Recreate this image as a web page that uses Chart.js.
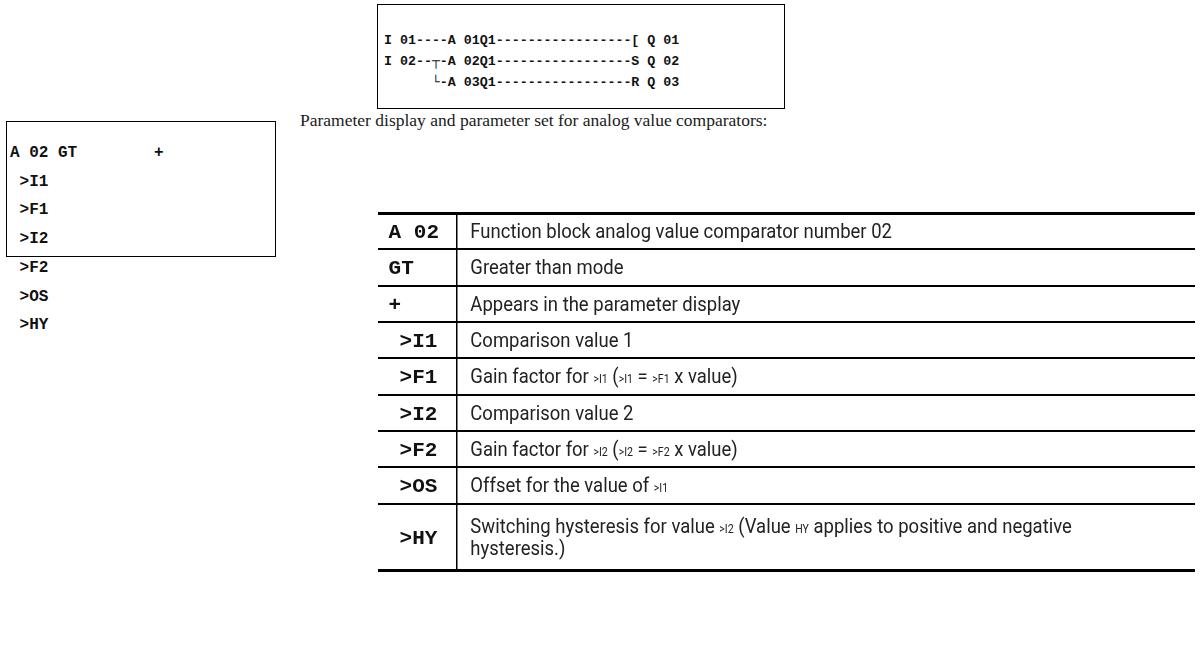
<!DOCTYPE html>
<html>
<head>
<meta charset="utf-8">
<script src="https://cdn.jsdelivr.net/npm/chart.js@4.4.1/dist/chart.umd.min.js"></script>
<style>
  body { margin: 0; background: #fff; }
  #page { position: relative; width: 1200px; height: 656px; overflow: hidden; background: #fff; }
  .box { position: absolute; border: 1.5px solid #000; box-sizing: border-box; }
  pre { margin: 0; position: absolute; font-family: "Liberation Mono", "Courier New", monospace; font-weight: bold; color: #111; }
  #intro { position: absolute; left: 300px; top: 110px; font: 17.5px "Liberation Serif", serif; color: #1a1a1a; white-space: nowrap; }
  #tableCanvas { position: absolute; left: 370px; top: 205px; }
</style>
</head>
<body>
<div id="page">
  <div class="box" style="left:377px; top:4px; width:408px; height:105px;"></div>
  <pre id="code" style="left:384px; top:30px; font-size:13.3px; line-height:21px;"></pre>
  <div class="box" style="left:6px; top:121px; width:270px; height:136px;"></div>
  <pre id="display" style="left:10px; top:139px; font-size:16px; line-height:28.7px;"></pre>
  <div id="intro"></div>
  <canvas id="tableCanvas" width="830" height="375"></canvas>
</div>
<script>
'use strict';

// circuit diagram lines in the top box
var codeLines = [
  'I 01----A 01Q1-----------------[ Q 01',
  'I 02--\u252C-A 02Q1-----------------S Q 02',
  '      \u2514-A 03Q1-----------------R Q 03'
];

// parameter display in the left box
var displayLines = [
  'A 02 GT        +',
  ' >I1',
  ' >F1',
  ' >I2',
  ' >F2',
  ' >OS',
  ' >HY'
];

var introText = 'Parameter display and parameter set for analog value comparators:';

// table: first column and description (text in {} is printed small, \n = new line)
var paramNames = ['A 02', 'GT', '+', ' >I1', ' >F1', ' >I2', ' >F2', ' >OS', ' >HY'];
var paramDescriptions = [
  'Function block analog value comparator number 02',
  'Greater than mode',
  'Appears in the parameter display',
  'Comparison value 1',
  'Gain factor for {>I1} ({>I1} = {>F1} x value)',
  'Comparison value 2',
  'Gain factor for {>I2} ({>I2} = {>F2} x value)',
  'Offset for the value of {>I1}',
  'Switching hysteresis for value {>I2} (Value {HY} applies to positive and negative\nhysteresis.)'
];

document.getElementById('code').textContent = codeLines.join('\n');
document.getElementById('display').textContent = displayLines.join('\n');
document.getElementById('intro').textContent = introText;

// row sizes in "row units", a second text line adds a bit less than a row
var rowUnits = function(lineCount) {
  return 1 + (lineCount - 1) * 0.83;
};

var rowBounds = [0];
paramDescriptions.forEach(function(d) {
  rowBounds.push(rowBounds[rowBounds.length - 1] + rowUnits(d.split('\n').length));
});
var tableTotal = rowBounds[rowBounds.length - 1];

var colSplit = 0.097;
var nameX = 0.013;
var descX = 0.113;

// pick a condensed face if one is there, otherwise squeeze Roboto
var probe = document.createElement('canvas').getContext('2d');
probe.font = '20px "Liberation Sans Narrow", monospace';
var wNarrow = probe.measureText('Function block analog').width;
probe.font = '20px monospace';
var wMono = probe.measureText('Function block analog').width;
var hasNarrow = Math.abs(wNarrow - wMono) > 0.5;
var descFamily = hasNarrow ? '"Liberation Sans Narrow"' : 'Roboto, "Liberation Sans", sans-serif';
var squeeze = hasNarrow ? 1.04 : 0.88;

function drawRich(ctx, text, x, baseY) {
  var parts = text.split(/(\{[^}]*\})/);
  ctx.save();
  ctx.translate(x, baseY);
  ctx.scale(squeeze, 1);
  var cx = 0;
  parts.forEach(function(p) {
    if (!p) { return; }
    var small = p.charAt(0) === '{';
    var s = small ? p.slice(1, -1) : p;
    ctx.font = (small ? '12px ' : '21px ') + descFamily;
    ctx.fillText(s, cx, 0);
    cx += ctx.measureText(s).width;
  });
  ctx.restore();
}

var tablePlugin = {
  id: 'paramTable',
  afterDraw: function(chart) {
    var ctx = chart.ctx;
    var x = chart.scales.x;
    var y = chart.scales.y;
    ctx.save();
    ctx.textBaseline = 'alphabetic';
    ctx.textAlign = 'left';
    for (var i = 0; i < paramNames.length; i++) {
      var lines = paramDescriptions[i].split('\n');
      var cy = y.getPixelForValue((rowBounds[i] + rowBounds[i + 1]) / 2);
      var name = paramNames[i];
      var indent = name.charAt(0) === ' ' ? 11 : 0;
      ctx.fillStyle = '#111';
      ctx.font = 'bold 21px "Liberation Mono", monospace';
      ctx.fillText(name.trim(), x.getPixelForValue(nameX) + indent, cy + 7);
      ctx.fillStyle = '#222';
      for (var k = 0; k < lines.length; k++) {
        var ly = cy + (k - (lines.length - 1) / 2) * 22;
        drawRich(ctx, lines[k], x.getPixelForValue(descX), ly + 7);
      }
    }
    ctx.restore();
  }
};

var chart = new Chart(document.getElementById('tableCanvas'), {
  type: 'scatter',
  data: { datasets: [] },
  plugins: [tablePlugin],
  options: {
    responsive: false,
    animation: false,
    devicePixelRatio: 1,
    events: [],
    layout: { padding: { left: 8, right: 5, top: 8, bottom: 10 } },
    plugins: { legend: { display: false }, tooltip: { enabled: false } },
    scales: {
      x: {
        type: 'linear', min: 0, max: 1,
        afterBuildTicks: function(scale) { scale.ticks = [{ value: colSplit }]; },
        afterFit: function(scale) { scale.height = 0; },
        ticks: { display: false },
        border: { display: false },
        grid: { color: '#000', lineWidth: 1.5, drawTicks: false }
      },
      y: {
        type: 'linear', min: 0, max: tableTotal, reverse: true,
        afterBuildTicks: function(scale) {
          scale.ticks = rowBounds.map(function(v) { return { value: v }; });
        },
        afterFit: function(scale) { scale.width = 0; },
        ticks: { display: false },
        border: { display: false },
        grid: {
          color: '#000',
          drawTicks: false,
          lineWidth: function(c) {
            return (c.index === 0 || c.index === rowBounds.length - 1) ? 3 : 2;
          }
        }
      }
    }
  }
});
</script>
</body>
</html>
